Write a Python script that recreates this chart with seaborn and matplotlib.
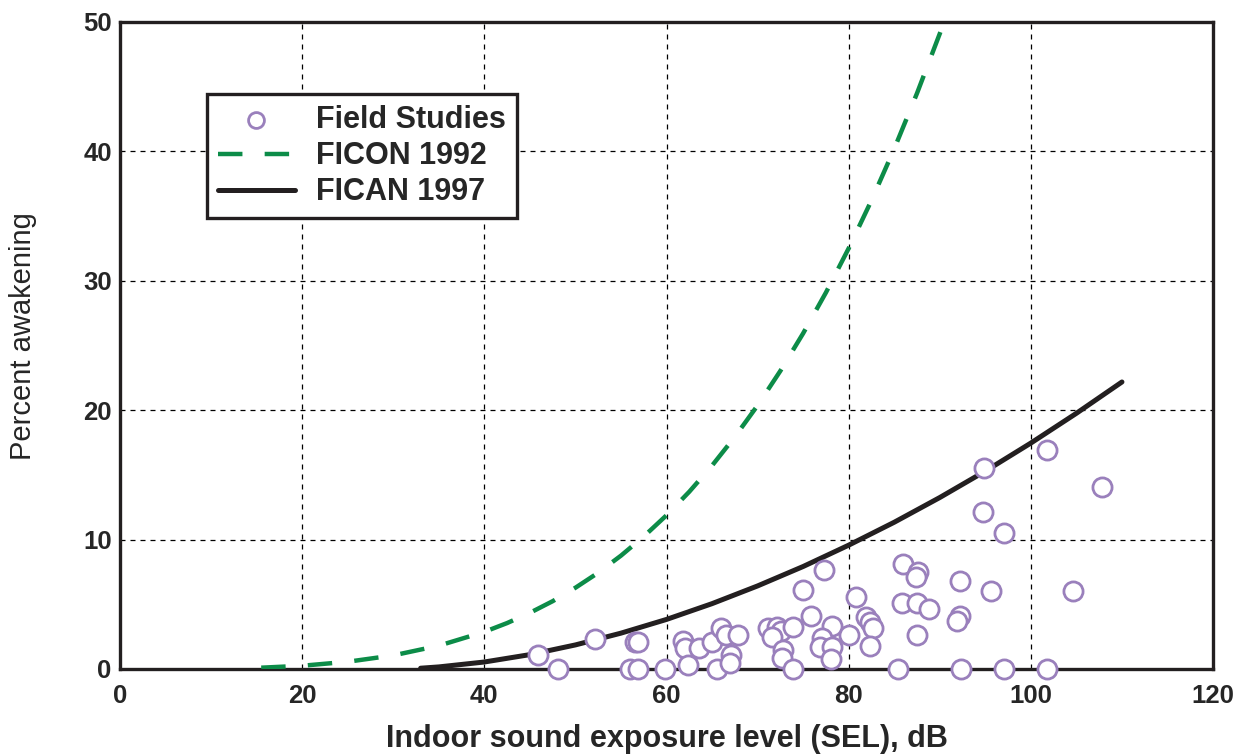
import numpy as np
import pandas as pd
import matplotlib
matplotlib.use("Agg")
import matplotlib.pyplot as plt
import seaborn as sns

# field study points (SEL dB, % awakening)
field_sel = [45.9, 48.1, 52.2, 56.5, 56.9, 56.0, 56.9, 59.8, 61.8, 62.0,
             62.4, 63.6, 65.0, 66.0, 65.5, 66.5, 67.9, 67.1, 67.0, 71.1,
             72.1, 72.6, 73.9, 71.6, 72.8, 72.7, 73.9, 75.0, 75.9, 77.3,
             78.2, 77.1, 76.9, 78.2, 78.1, 80.0, 80.8, 81.9, 82.3, 82.7,
             82.3, 85.4, 86.0, 87.6, 87.4, 85.9, 87.5, 88.8, 87.5, 92.2,
             92.2, 91.9, 92.3, 94.9, 94.8, 97.1, 95.6, 97.1, 101.8, 101.8,
             104.6, 107.8]
field_pct = [1.1, 0.0, 2.3, 2.1, 2.1, 0.0, 0.0, 0.0, 2.2, 1.6,
             0.3, 1.6, 2.1, 3.2, 0.0, 2.6, 2.6, 1.1, 0.5, 3.2,
             3.25, 2.9, 3.25, 2.5, 1.5, 0.85, 0.0, 6.1, 4.1, 7.65,
             3.3, 2.4, 1.7, 1.7, 0.8, 2.6, 5.6, 4.0, 3.6, 3.2,
             1.8, 0.0, 8.1, 7.5, 7.1, 5.1, 5.1, 4.6, 2.6, 6.8,
             4.1, 3.7, 0.0, 15.5, 12.1, 10.5, 6.0, 0.0, 16.9, 0.0,
             6.0, 14.1]

# FICON 1992 curve
ficon_sel = [15.5, 20, 25, 30, 35, 40, 42.5, 45, 47.5, 50, 52.5, 55, 57.5,
             60, 62.5, 65, 67.5, 70, 72.5, 75, 77.5, 80, 82.5, 85, 87.5,
             90, 90.5]
ficon_pct = [0.10, 0.25, 0.56, 1.05, 1.80, 2.87, 3.55, 4.34, 5.24, 6.28,
             7.44, 8.76, 10.24, 11.88, 13.70, 15.72, 17.94, 20.37, 23.04,
             25.94, 29.09, 32.51, 36.21, 40.20, 44.49, 49.10, 50.06]

# FICAN 1997 curve
fican_sel = [33, 35, 40, 45, 50, 55, 60, 65, 70, 75, 80, 85, 90, 95, 100, 105, 110]
fican_pct = [0.06, 0.16, 0.54, 1.11, 1.86, 2.77, 3.83, 5.05, 6.42, 7.92,
             9.57, 11.34, 13.25, 15.29, 17.46, 19.76, 22.18]

purple = "#9a80bc"
green = "#0c8c48"

sns.set_style("white")
plt.rcParams['font.family'] = ['Liberation Sans', 'DejaVu Sans']

fig = plt.figure(figsize=(12.49, 7.56), dpi=100)
ax = fig.add_axes([0.0961, 0.1151, 0.8751, 0.8558])

field = pd.DataFrame({"sel": field_sel, "pct": field_pct})
ficon = pd.DataFrame({"sel": ficon_sel, "pct": ficon_pct})
fican = pd.DataFrame({"sel": fican_sel, "pct": fican_pct})

sns.lineplot(data=ficon, x="sel", y="pct", ax=ax, color=green, lw=3.2,
             label="FICON 1992", zorder=3)
ax.lines[-1].set_dashes((5.5, 5.0))
sns.lineplot(data=fican, x="sel", y="pct", ax=ax, color="#231f20", lw=3.6,
             label="FICAN 1997", zorder=3)
sns.scatterplot(data=field, x="sel", y="pct", ax=ax, s=190, facecolor="white",
                edgecolor=purple, linewidth=2.0, label="Field Studies",
                zorder=5, clip_on=False)

ax.set_xlim(0, 120)
ax.set_ylim(0, 50)
ax.set_xticks(range(0, 121, 20))
ax.set_yticks(range(0, 51, 10))
ax.grid(True, color="black", linestyle=(0, (4, 4)), linewidth=0.9)
ax.set_axisbelow(True)
for sp in ax.spines.values():
    sp.set_color("#231f20")
    sp.set_linewidth(2.4)
    sp.set_visible(True)
ax.tick_params(length=0, labelsize=18.5)
ax.tick_params(axis="x", pad=11)
ax.tick_params(axis="y", pad=6)
for lab in ax.get_xticklabels() + ax.get_yticklabels():
    lab.set_fontweight("bold")

ax.set_xlabel("Indoor sound exposure level (SEL), dB", fontsize=22,
              fontweight="bold", labelpad=11)
ax.set_ylabel("Percent awakening", fontsize=21)
ax.yaxis.set_label_coords(-0.076, 0.515)

handles, labels = ax.get_legend_handles_labels()
order = [labels.index("Field Studies"), labels.index("FICON 1992"),
         labels.index("FICAN 1997")]
leg = ax.legend([handles[i] for i in order], [labels[i] for i in order],
                loc="upper left", bbox_to_anchor=(0.08, 0.888), frameon=True,
                fancybox=False, edgecolor="#231f20", framealpha=1,
                prop={"weight": "bold", "size": 22}, handlelength=2.5,
                borderpad=0.35, labelspacing=0.2, handletextpad=0.7,
                borderaxespad=0)
leg.get_frame().set_linewidth(2.4)
leg.legend_handles[0].set_sizes([130])

fig.savefig("out.png", dpi=100)
